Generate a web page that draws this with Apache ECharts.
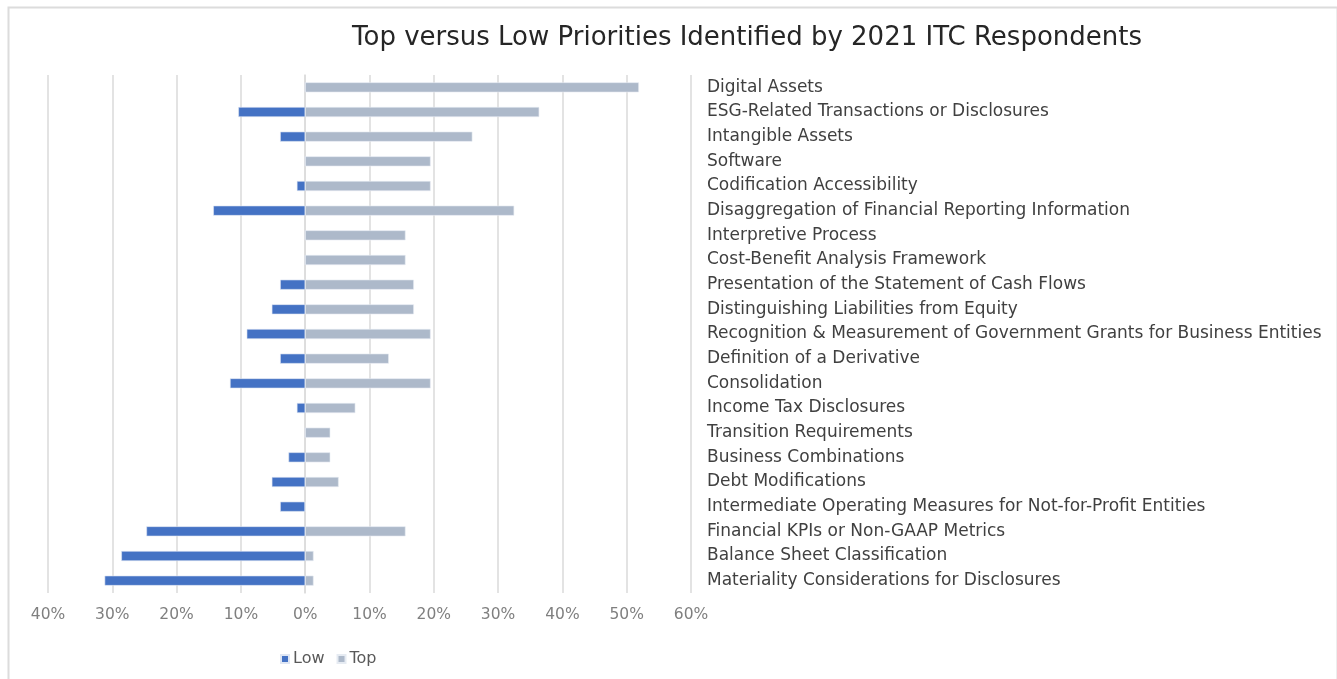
<!DOCTYPE html>
<html>
<head>
<meta charset="utf-8">
<script src="https://cdn.jsdelivr.net/npm/echarts@6/dist/echarts.min.js"></script>
<style>html,body{margin:0;padding:0;background:#fff}#c{width:1337px;height:679px}</style>
</head>
<body>
<div id="c"></div>
<script>
const categories = [
  "Digital Assets",
  "ESG-Related Transactions or Disclosures",
  "Intangible Assets",
  "Software",
  "Codification Accessibility",
  "Disaggregation of Financial Reporting Information",
  "Interpretive Process",
  "Cost-Benefit Analysis Framework",
  "Presentation of the Statement of Cash Flows",
  "Distinguishing Liabilities from Equity",
  "Recognition & Measurement of Government Grants for Business Entities",
  "Definition of a Derivative",
  "Consolidation",
  "Income Tax Disclosures",
  "Transition Requirements",
  "Business Combinations",
  "Debt Modifications",
  "Intermediate Operating Measures for Not-for-Profit Entities",
  "Financial KPIs or Non-GAAP Metrics",
  "Balance Sheet Classification",
  "Materiality Considerations for Disclosures"
];
// percent of respondents (Low shown as negative)
const lowValues = [0, -10.4, -3.9, 0, -1.3, -14.3, 0, 0, -3.9, -5.2, -9.1, -3.9, -11.7, -1.3, 0, -2.6, -5.2, -3.9, -24.7, -28.6, -31.2];
const topValues = [51.9, 36.4, 26.0, 19.5, 19.5, 32.5, 15.6, 15.6, 16.9, 16.9, 19.5, 13.0, 19.5, 7.8, 3.9, 3.9, 5.2, 0, 15.6, 1.3, 1.3];
const seriesNames = ["Low", "Top"];
const xMin = -40, xMax = 60, xStep = 10;

const FONT = "'DejaVu Sans', 'Open Sans', sans-serif";
const chart = echarts.init(document.getElementById('c'), null, {renderer: 'canvas'});
chart.setOption({
  animation: false,
  backgroundColor: '#fff',
  graphic: [{
    type: 'rect', left: 6, top: 5,
    shape: {width: 1329, height: 700},
    style: {fill: 'none', stroke: '#dcdcdc', lineWidth: 2}, silent: true
  }],
  title: {
    text: 'Top versus Low Priorities Identified by 2021 ITC Respondents',
    left: 742, top: 20, textAlign: 'center',
    textStyle: {fontFamily: FONT, fontSize: 26, fontWeight: 'normal', color: '#262626'}
  },
  legend: {
    data: seriesNames,
    left: 275, top: 646,
    itemWidth: 8, itemHeight: 8, itemGap: 12,
    icon: 'rect',
    textStyle: {fontFamily: FONT, fontSize: 16, color: '#595959', padding: [0, 0, 0, -1]}
  },
  grid: {left: 48, right: 646, top: 75, bottom: 86, containLabel: false},
  xAxis: {
    type: 'value', min: xMin, max: xMax, interval: xStep,
    axisLine: {show: false}, axisTick: {show: false},
    splitLine: {show: true, lineStyle: {color: '#dcdcdc', width: 1.6}},
    axisLabel: {
      fontFamily: FONT, fontSize: 15.5, color: '#7f7f7f', margin: 14,
      formatter: v => Math.abs(v) + '%'
    }
  },
  yAxis: {
    type: 'category', data: categories, inverse: true, position: 'right',
    axisLine: {show: true, lineStyle: {color: '#dcdcdc', width: 1.6}},
    axisTick: {show: false},
    axisLabel: {fontFamily: FONT, fontSize: 17, color: '#404040', margin: 16}
  },
  series: [
    {
      name: seriesNames[0], type: 'bar', data: lowValues, barWidth: 10, barGap: '-100%',
      itemStyle: {color: '#4472c4', borderColor: '#dfe6f3', borderWidth: 0.6}
    },
    {
      name: seriesNames[1], type: 'bar', data: topValues, barWidth: 10,
      itemStyle: {color: '#adb9ca', borderColor: '#e6ebf2', borderWidth: 0.6}
    }
  ]
});
</script>
</body>
</html>
